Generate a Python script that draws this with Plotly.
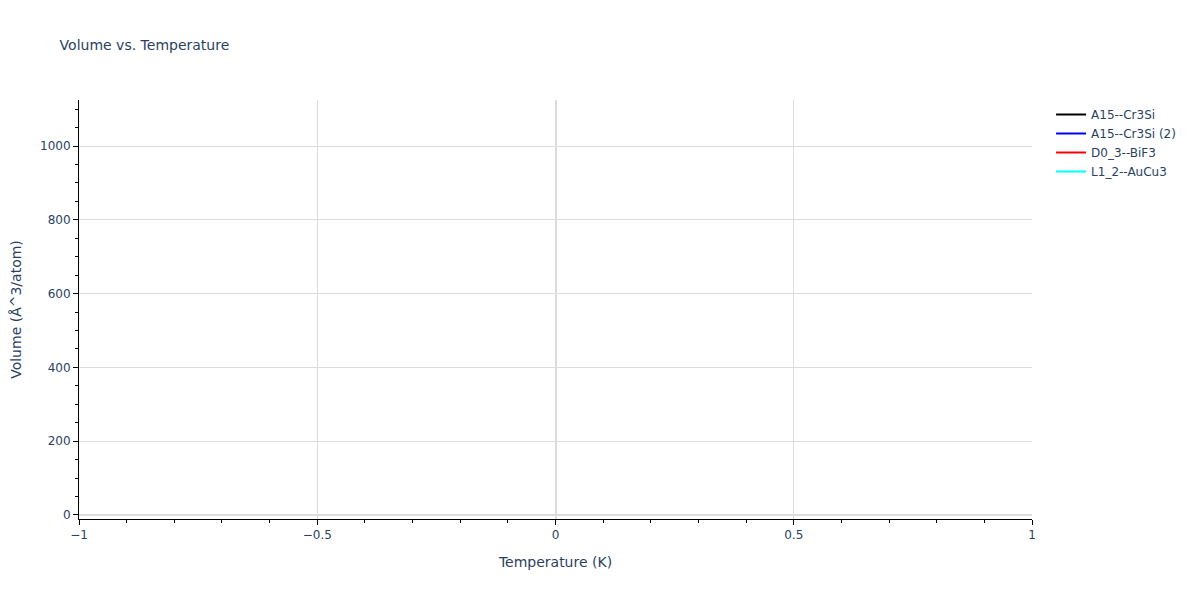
import plotly.graph_objects as go

# structures and their (single) data points
names = ['A15--Cr3Si', 'A15--Cr3Si (2)', 'D0_3--BiF3', 'L1_2--AuCu3']
colors = ['black', 'blue', 'red', 'cyan']
temps = [[0], [0], [0], [0]]
volumes = [[None], [None], [None], [None]]

fig = go.Figure()

for name, color, t, v in zip(names, colors, temps, volumes):
    fig.add_trace(go.Scatter(
        x=t,
        y=v,
        mode='lines',
        name=name,
        line=dict(color=color, width=2)
    ))

axis_style = dict(
    showline=True,
    linecolor='black',
    linewidth=1,
    ticks='outside',
    tickcolor='black',
    ticklen=5,
    showgrid=True,
    gridcolor='rgb(220,220,220)',
    zeroline=True,
    zerolinecolor='rgb(220,220,220)',
    zerolinewidth=2,
    automargin=False,
)

fig.update_layout(
    template='plotly_white',
    width=1200,
    height=600,
    margin=dict(l=71, t=92, b=89, r=176),
    font=dict(family='DejaVu Sans', color='#2a3f5f'),
    title=dict(text='Volume vs. Temperature', x=0.043, y=0.938, yanchor='middle',
               font=dict(size=14)),
    xaxis=dict(
        title='Temperature (K)',
        range=[-1, 1],
        dtick=0.5,
        minor=dict(ticks='outside', dtick=0.1, ticklen=3, tickcolor='black', showgrid=False),
        **axis_style
    ),
    yaxis=dict(
        title='Volume (Å^3/atom)',
        range=[-11, 1125],
        dtick=200,
        minor=dict(ticks='outside', dtick=50, ticklen=3, tickcolor='black', showgrid=False),
        **axis_style
    ),
    showlegend=True,
)

fig.write_html('out.html')
